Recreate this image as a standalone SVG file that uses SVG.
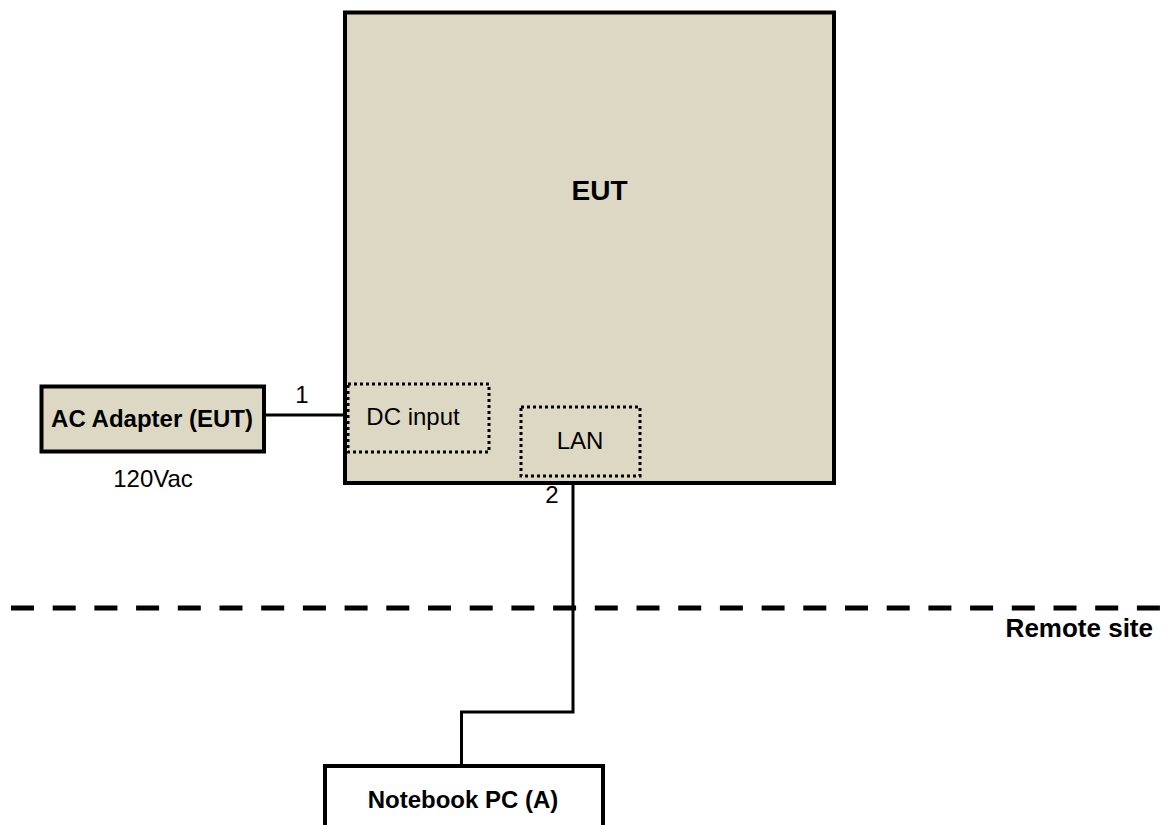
<svg xmlns="http://www.w3.org/2000/svg" width="1164" height="825" viewBox="0 0 1164 825">
<style>
.box{fill:#ddd8c3;stroke:#000;stroke-width:4}
.wbox{fill:#fff;stroke:#000;stroke-width:4}
.dot{fill:none;stroke:#000;stroke-width:3;stroke-dasharray:3 3}
.wire{fill:none;stroke:#000;stroke-width:3}
.t{font-family:"Liberation Sans",Arial,sans-serif;font-size:24px;fill:#000}
.b{font-family:"Liberation Sans",Arial,sans-serif;font-size:24px;font-weight:bold;fill:#000}
</style>
<rect width="1164" height="825" fill="#fff"/>
<g id="connectors">
<line class="wire" x1="264" y1="415" x2="345" y2="415"/>
<polyline class="wire" points="573,483 573,712 461.5,712 461.5,766"/>
<line x1="11" y1="608" x2="1164" y2="608" stroke="#000" stroke-width="5" stroke-dasharray="23 18.7"/>
</g>
<g id="eut">
<rect class="box" x="345" y="12.5" width="489" height="470.5"/>
<text class="b" x="599.5" y="200" text-anchor="middle" style="font-size:28px">EUT</text>
</g>
<g id="dc-input">
<rect class="dot" x="348" y="384" width="141" height="68"/>
<text class="t" x="413" y="425" text-anchor="middle">DC input</text>
</g>
<g id="lan">
<rect class="dot" x="521" y="407" width="119" height="69"/>
<text class="t" x="580" y="449" text-anchor="middle">LAN</text>
</g>
<g id="ac-adapter">
<rect class="box" x="41.5" y="386.5" width="222.5" height="65"/>
<text class="b" x="152" y="427" text-anchor="middle">AC Adapter (EUT)</text>
<text class="t" x="153" y="487" text-anchor="middle">120Vac</text>
</g>
<g id="notebook">
<rect class="wbox" x="325" y="766" width="278" height="80"/>
<text class="b" x="463" y="808" text-anchor="middle">Notebook PC (A)</text>
</g>
<g id="labels">
<text class="t" x="302" y="403" text-anchor="middle">1</text>
<text class="t" x="552" y="503" text-anchor="middle">2</text>
<text class="b" x="1153" y="637" text-anchor="end" style="font-size:26px">Remote site</text>
</g>
</svg>
